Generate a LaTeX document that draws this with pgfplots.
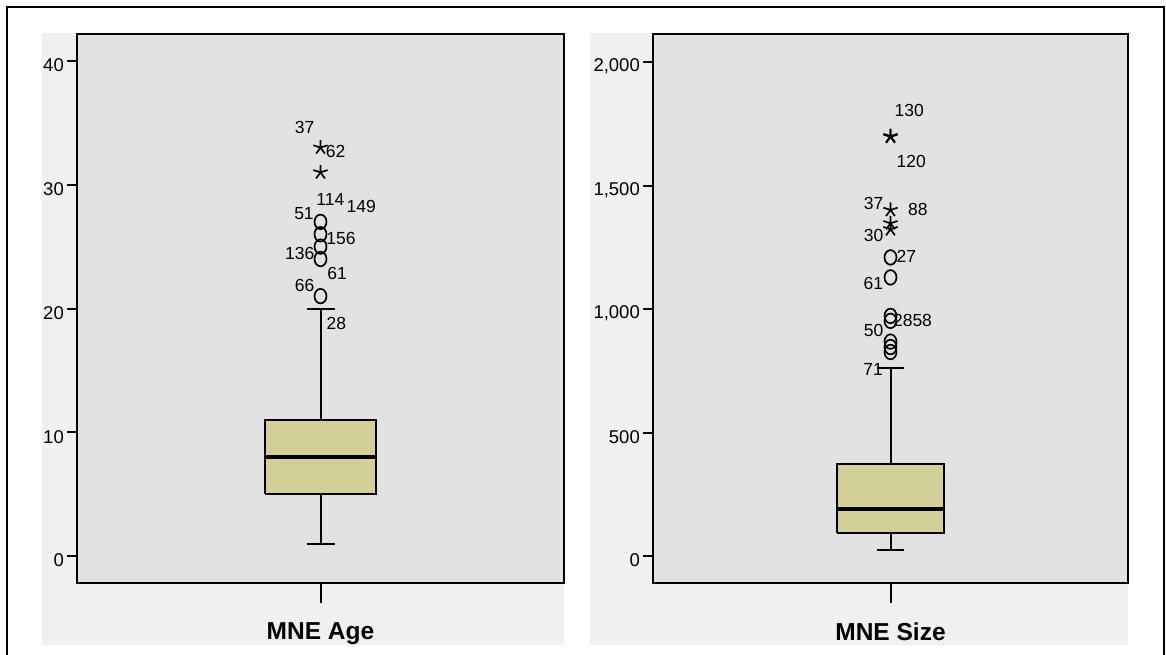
\documentclass[border=0pt]{standalone}
\usepackage{fontspec}
\setmainfont{Liberation Sans}
\usepackage{pgfplots}
\pgfplotsset{compat=1.18}
\definecolor{outerbg}{RGB}{240,240,240}
\definecolor{plotbg}{RGB}{226,226,226}
\definecolor{boxfill}{RGB}{211,207,153}
\tikzset{lab/.style={font=\fontsize{17.5}{19}\selectfont, inner sep=0pt, anchor=center}}
\pgfplotsset{
  spss/.style={
    scale only axis, height=549pt, xmin=0, xmax=2,
    axis line style={line width=2pt},
    axis background/.style={fill=plotbg},
    tick align=outside, ytick pos=left, xtick pos=bottom,
    major tick length=10pt,
    every tick/.style={black, line width=2pt},
    yticklabel style={font=\fontsize{18.5}{20}\selectfont, inner sep=0pt, xshift=-3pt, yshift=-4.5pt},
    xtick=\empty,
    extra x ticks={1},
    extra x tick style={major tick length=20pt, xticklabel style={font=\fontsize{24.5}{28}\selectfont\bfseries, yshift=-16pt}},
    clip=false,
  },
  wh/.style={black, line width=2pt},
  bx/.style={draw=black, fill=boxfill, line width=2pt, line join=miter},
  md/.style={black, line width=3.5pt},
  circ/.style={only marks, mark=o, mark size=7.3, line width=1.7pt, mark options={xscale=0.82, draw=black}},
  extr/.style={only marks, mark=star, mark size=7.5, line width=1.7pt, mark options={draw=black}},
}
\begin{document}
\begin{tikzpicture}
\path[use as bounding box] (0pt,0pt) rectangle (1166pt,-655pt);
\fill[white] (0pt,0pt) rectangle (1166pt,-655pt);
\draw[line width=2pt] (7pt,-700pt) -- (7pt,-7.5pt) -- (1164pt,-7.5pt) -- (1164pt,-700pt);
\fill[outerbg] (42pt,-33.5pt) rectangle (564pt,-645pt);
\fill[outerbg] (590pt,-33.5pt) rectangle (1128pt,-645pt);

\begin{axis}[spss, at={(77pt,-583pt)}, anchor=south west, width=487pt,
  ymin=-2.18, ymax=42.18, ytick={0,10,20,30,40},
  yticklabels={0,10,20,30,40}, extra x tick labels={MNE Age}]
% box: Q1=5, median=8, Q3=11, whiskers 1 and 20
\addplot[wh] coordinates {(1,11) (1,20)};
\addplot[wh] coordinates {(0.9425,20) (1.0575,20)};
\addplot[wh] coordinates {(1,5) (1,1)};
\addplot[wh] coordinates {(0.9425,1) (1.0575,1)};
\addplot[bx] coordinates {(0.774,5) (1.226,5) (1.226,11) (0.774,11) (0.774,5)};
\addplot[md] coordinates {(0.774,8) (1.226,8)};
\addplot[circ] coordinates {(1,27) (1,26) (1,25) (1,24) (1,21)};
\addplot[extr] coordinates {(1,33) (1,31)};
\node[lab] at (axis cs:0.9343,34.64) {37};
\node[lab] at (axis cs:1.0616,32.65) {62};
\node[lab] at (axis cs:1.0402,28.82) {114};
\node[lab] at (axis cs:1.1671,28.28) {149};
\node[lab] at (axis cs:0.9322,27.66) {51};
\node[lab] at (axis cs:1.0842,25.64) {156};
\node[lab] at (axis cs:0.9150,24.46) {136};
\node[lab] at (axis cs:1.0686,22.87) {61};
\node[lab] at (axis cs:0.9343,21.87) {66};
\node[lab] at (axis cs:1.0649,18.83) {28};
\end{axis}

\begin{axis}[spss, at={(653pt,-583pt)}, anchor=south west, width=475pt,
  ymin=-109.3, ymax=2113.4, ytick={0,500,1000,1500,2000},
  yticklabels={0,500,{1,000},{1,500},{2,000}}, extra x tick labels={MNE Size}]
% box: Q1=92, median=191, Q3=372, whiskers 23 and 761
\addplot[wh] coordinates {(1,372) (1,761)};
\addplot[wh] coordinates {(0.9425,761) (1.0575,761)};
\addplot[wh] coordinates {(1,92) (1,23)};
\addplot[wh] coordinates {(0.9425,23) (1.0575,23)};
\addplot[bx] coordinates {(0.775,92) (1.225,92) (1.225,372) (0.775,372) (0.775,92)};
\addplot[md] coordinates {(0.775,191) (1.225,191)};
\addplot[circ] coordinates {(1,1209) (1,1128) (1,972) (1,952) (1,868) (1,846) (1,826)};
\addplot[extr] coordinates {(1,1700) (1,1697) (1,1401) (1,1347) (1,1323)};
\node[lab] at (axis cs:1.0787,1802.8) {130};
\node[lab] at (axis cs:1.0876,1596.4) {120};
\node[lab] at (axis cs:0.9293,1427.9) {37};
\node[lab] at (axis cs:1.1149,1403.6) {88};
\node[lab] at (axis cs:0.9293,1299.6) {30};
\node[lab] at (axis cs:1.0665,1213.4) {27};
\node[lab] at (axis cs:0.9276,1102.4) {61};
\node[lab] at (axis cs:1.0926,954.3) {2858};
\node[lab] at (axis cs:0.9293,913.8) {50};
\node[lab] at (axis cs:0.9263,754.3) {71};
\end{axis}
\end{tikzpicture}
\end{document}
